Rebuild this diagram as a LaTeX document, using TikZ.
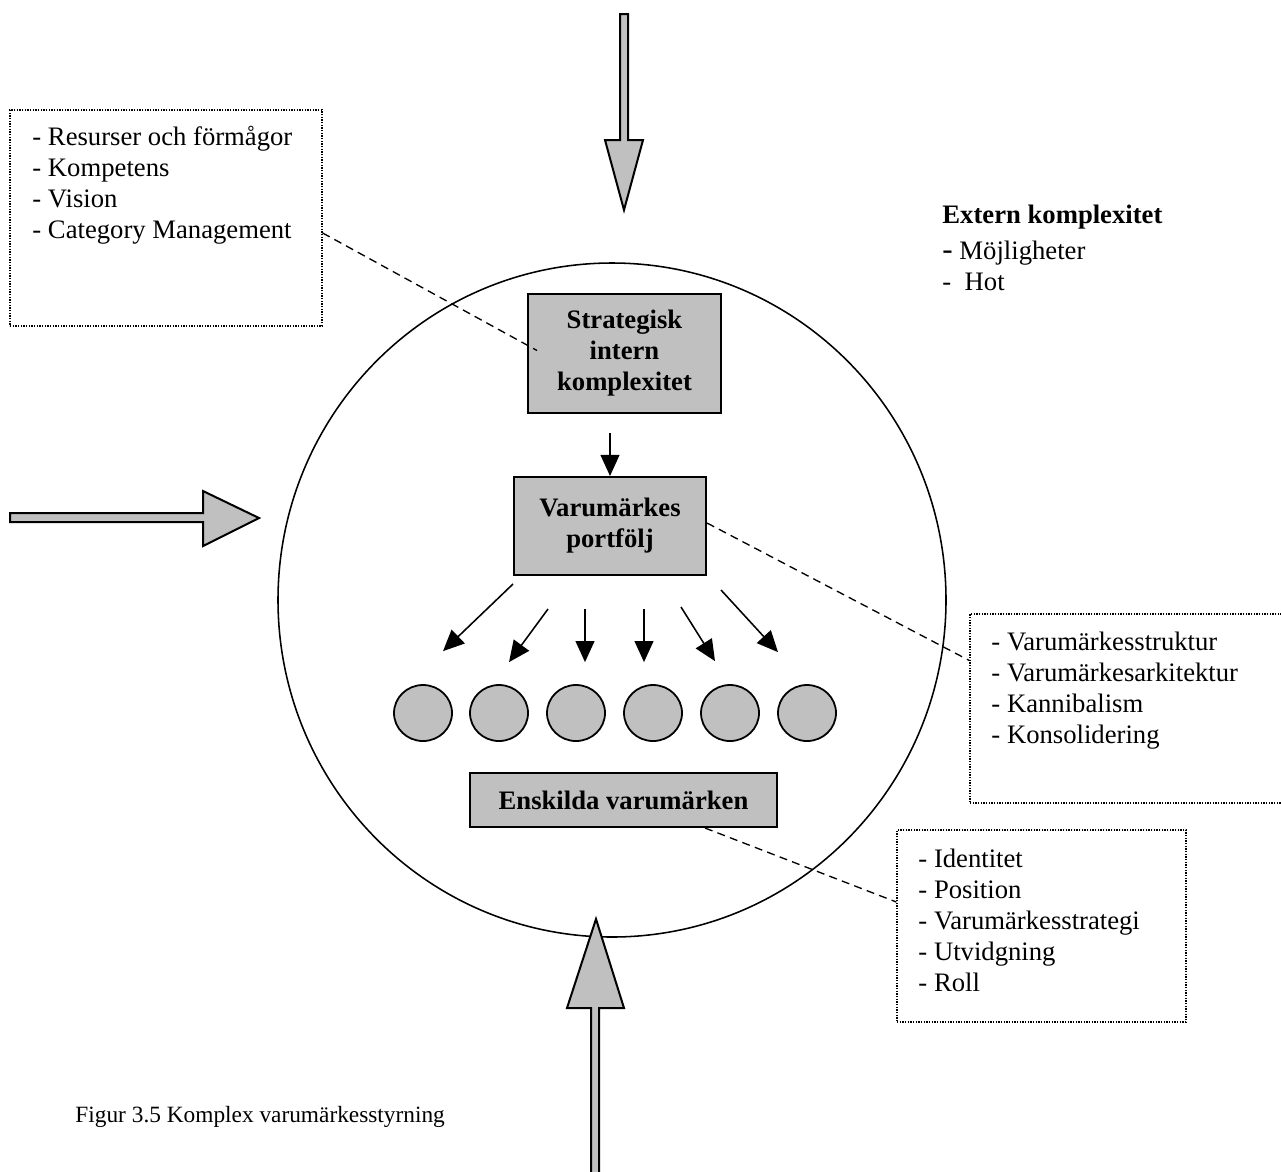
\documentclass[tikz,border=0pt]{standalone}
\usepackage{fontspec}
\setmainfont{Liberation Serif}
\usetikzlibrary{arrows.meta,shapes.geometric,calc}
\newlength\pxl
\setlength\pxl{0.45pt}
\definecolor{boxgray}{HTML}{C0C0C0}
\tikzset{
  greybox/.style={draw, line width=0.9pt, fill=boxgray, rectangle, inner sep=0pt,
    align=center, font=\fontsize{12}{13.95}\selectfont\bfseries},
  brand/.style={draw, line width=0.8pt, fill=boxgray, ellipse, inner sep=0pt,
    minimum width=58\pxl, minimum height=56\pxl},
  notebox/.style={draw, line width=0.6pt, dash pattern=on 0.6pt off 0.6pt, rectangle, inner sep=0pt},
  % multi-line text is placed by the baseline of its last line
  notetext/.style={anchor=base west, inner sep=0pt, align=left, font=\fontsize{12}{13.95}\selectfont},
  link/.style={line width=0.6pt, dash pattern=on 3.6pt off 2.4pt},
  flow/.style={line width=0.7pt, -{Triangle[length=9.5pt,width=8.5pt]}},
  blockarrow/.style={draw, line width=0.9pt, fill=boxgray, line join=miter}
}
\begin{document}
\begin{tikzpicture}[x=0.45pt, y=-0.45pt]
\useasboundingbox (0,0) rectangle (1281,1171);
\clip (0,0) rectangle (1281,1171);

% outer ring
\draw[line width=0.7pt] (612,600) ellipse [x radius=334, y radius=337];

% external forces as block arrows
\filldraw[blockarrow] (620,14) -- (628,14) -- (628,140) -- (643,140) -- (624,210) -- (605,140) -- (620,140) -- cycle;
\filldraw[blockarrow] (10,513) -- (203,513) -- (203,491) -- (259,518) -- (203,546) -- (203,522) -- (10,522) -- cycle;
\filldraw[blockarrow] (591,1180) -- (591,1008) -- (567,1008) -- (596,919) -- (624,1008) -- (599,1008) -- (599,1180) -- cycle;

% central boxes
\node[greybox, minimum width=193\pxl, minimum height=119\pxl] (strat) at (624.5,353.5)
  {Strategisk\\intern\\komplexitet};
\node[greybox, minimum width=192\pxl, minimum height=98\pxl] (port) at (610,526)
  {Varumärkes\\portfölj};
\node[greybox, minimum width=307\pxl, minimum height=54\pxl] (ensk) at (623.5,800)
  {Enskilda varumärken};

% individual brands
\node[brand] (b1) at (423,713) {};
\node[brand] (b2) at (499,713) {};
\node[brand] (b3) at (576,713) {};
\node[brand] (b4) at (653,713) {};
\node[brand] (b5) at (730,713) {};
\node[brand] (b6) at (807,713) {};

% flows
\draw[flow] ($(strat.south -| port.north)+(0,19)$) -- (port.north);
\draw[flow] ($(port.south west)+(0,8)$) -- ($(b1.north)+(20,-33)$);
\draw[flow] ($(port.south)+(-62,33)$) -- ($(b2.north)+(10,-22)$);
\draw[flow] ($(port.south)+(-25,33)$) -- ($(b3.north)+(9,-22)$);
\draw[flow] ($(port.south)+(34,33)$) -- ($(b4.north)+(-9,-22)$);
\draw[flow] ($(port.south)+(71,31)$) -- ($(b5.north)+(-15,-23)$);
\draw[flow] ($(port.south east)+(14,14)$) -- ($(b6.north)+(-29,-32)$);

% note boxes
\node[notebox, minimum width=312\pxl, minimum height=216\pxl] (box1) at (166,218) {};
\node[notebox, minimum width=320\pxl, minimum height=189\pxl] (box2) at (1130,708.5) {};
\node[notebox, minimum width=289\pxl, minimum height=192\pxl] (box3) at (1041.5,926) {};

\node[notetext] (t1) at (32,238)
  {- Resurser och förmågor\\- Kompetens\\- Vision\\- Category Management};
\node[notetext] (t2) at (991,743)
  {- Varumärkesstruktur\\- Varumärkesarkitektur\\- Kannibalism\\- Konsolidering};
\node[notetext] (t3) at (918,991)
  {- Identitet\\- Position\\- Varumärkesstrategi\\- Utvidgning\\- Roll};

% note links
\draw[link] ($(box1.east)+(0,15)$) -- ($(strat.west)+(10,-3)$);
\draw[link] ($(port.east)+(0,-3)$) -- ($(box2.west)+(0,-48)$);
\draw[link] ($(ensk.south)+(81.5,0)$) -- ($(box3.west)+(0,-24)$);

% external complexity
\node[notetext] (ext) at (942,290)
  {\textbf{Extern komplexitet}\\[2pt]{\fontsize{14}{13.95}\selectfont -} Möjligheter\\-\ \ Hot};

% caption
\node[anchor=base west, inner sep=0pt, font=\fontsize{10.5}{12}\selectfont] (cap) at (75,1122)
  {Figur 3.5 Komplex varumärkesstyrning};
\end{tikzpicture}
\end{document}
